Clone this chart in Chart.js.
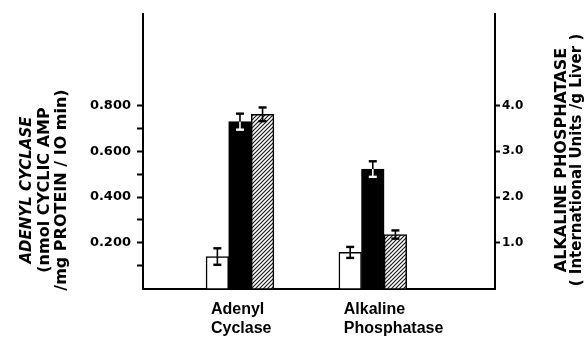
<!DOCTYPE html>
<html>
<head>
<meta charset="utf-8">
<script src="https://cdn.jsdelivr.net/npm/chart.js@4/dist/chart.umd.min.js"></script>
<style>
  body { margin: 0; background: #fff; }
  #chart { display: block; }
</style>
</head>
<body>
<canvas id="chart" width="584" height="339"></canvas>
<script>
// Data
const categories = ['Adenyl Cyclase', 'Alkaline Phosphatase'];
const groupX = [1, 2];
const seriesNames = ['control', 'treated', 'treated2'];

// left axis group (adenyl cyclase) and right axis group (alkaline phosphatase)
const controlValues = [0.140, 0.79];
const controlErrors = [0.036, 0.12];
const treatedValues = [0.729, 2.61];
const treatedErrors = [0.035, 0.17];
const treated2Values = [0.761, 1.18];
const treated2Errors = [0.030, 0.09];

const leftTickValues = [0.1, 0.2, 0.3, 0.4, 0.5, 0.6, 0.7, 0.8];
const leftTickLabels = ['', '0.200', '', '0.400', '', '0.600', '', '0.800'];
const rightTickValues = [1, 2, 3, 4];
const rightTickLabels = ['1.0', '2.0', '3.0', '4.0'];

const leftTitle = ['ADENYL CYCLASE', '(nmol CYCLIC AMP', '/mg PROTEIN / IO min)'];
const rightTitle = ['ALKALINE PHOSPHATASE', '( International Units /g Liver )'];

const canvas = document.getElementById('chart');
const ctx = canvas.getContext('2d');

// diagonal hatching for the third bar
function hatchPattern() {
    const c = document.createElement('canvas');
    c.width = 4; c.height = 4;
    const g = c.getContext('2d');
    g.fillStyle = '#fff';
    g.fillRect(0, 0, 4, 4);
    g.strokeStyle = '#1a1a1a';
    g.lineWidth = 1.2;
    g.beginPath();
    g.moveTo(0, 4); g.lineTo(4, 0);
    g.moveTo(-1, 1); g.lineTo(1, -1);
    g.moveTo(3, 5); g.lineTo(5, 3);
    g.stroke();
    return ctx.createPattern(c, 'repeat');
}

const seriesValues = [controlValues, treatedValues, treated2Values];
const seriesErrors = [controlErrors, treatedErrors, treated2Errors];
const seriesFill = ['#fff', '#000', hatchPattern()];
const seriesErrInside = ['#000', '#fff', '#000'];

// one dataset per series and group, so each group can use its own y axis
const datasets = [];
categories.forEach((cat, g) => {
    seriesNames.forEach((name, s) => {
        datasets.push({
            label: name + ' ' + cat,
            data: [{ x: groupX[g], y: seriesValues[s][g] }],
            errors: [seriesErrors[s][g]],
            errInside: seriesErrInside[s],
            yAxisID: g === 0 ? 'y' : 'y2',
            stack: name,
            backgroundColor: seriesFill[s],
            borderColor: '#000',
            borderWidth: 1.5,
            barThickness: 22.6
        });
    });
});

// error bars with caps
const errorBars = {
    id: 'errorBars',
    afterDatasetsDraw(chart) {
        const c = chart.ctx;
        c.save();
        chart.data.datasets.forEach((ds, i) => {
            const meta = chart.getDatasetMeta(i);
            const scale = chart.scales[meta.yAxisID];
            meta.data.forEach((bar, j) => {
                const v = ds.data[j].y;
                const err = ds.errors[j];
                const top = scale.getPixelForValue(v + err);
                const bottom = scale.getPixelForValue(v - err);
                const x = bar.x;
                c.lineWidth = 1.6;
                c.strokeStyle = '#000';
                c.beginPath(); c.moveTo(x, top); c.lineTo(x, bar.y); c.stroke();
                c.strokeStyle = ds.errInside;
                c.beginPath(); c.moveTo(x, bar.y); c.lineTo(x, bottom); c.stroke();
                c.lineWidth = 2.4;
                c.strokeStyle = '#000';
                c.beginPath(); c.moveTo(x - 4, top); c.lineTo(x + 4, top); c.stroke();
                c.strokeStyle = ds.errInside;
                c.beginPath(); c.moveTo(x - 4, bottom); c.lineTo(x + 4, bottom); c.stroke();
            });
        });
        c.restore();
    }
};

// rotated axis titles (both read bottom to top)
const axisTitles = {
    id: 'axisTitles',
    afterDraw(chart) {
        const c = chart.ctx;
        const yl = chart.scales.y;
        const yr = chart.scales.y2;
        c.save();
        c.fillStyle = '#000';
        c.textAlign = 'center';
        c.textBaseline = 'middle';
        leftTitle.forEach((line, i) => {
            c.save();
            c.translate(yl.left + 27 + i * 17.5, 190);
            c.rotate(-Math.PI / 2);
            c.font = i === 0 ? 'italic bold 15px "DejaVu Sans"' : 'bold 16px "DejaVu Sans"';
            c.fillText(line, 0, 0);
            c.restore();
        });
        rightTitle.forEach((line, i) => {
            c.save();
            c.translate(yr.left + 67 + i * 15, 160);
            c.rotate(-Math.PI / 2);
            c.font = i === 0 ? 'bold 16px "DejaVu Sans"' : 'bold 15px "DejaVu Sans"';
            c.fillText(line, 0, 0);
            c.restore();
        });
        c.restore();
    }
};

new Chart(canvas, {
    type: 'bar',
    data: { datasets: datasets },
    plugins: [errorBars, axisTitles],
    options: {
        responsive: false,
        animation: false,
        devicePixelRatio: 1,
        layout: { padding: { top: 12, left: 0, right: 0, bottom: 0 } },
        plugins: {
            legend: { display: false },
            tooltip: { enabled: false }
        },
        scales: {
            x: {
                type: 'linear',
                offset: false,
                min: 0.27,
                max: 2.92,
                grid: { display: false, drawTicks: true, tickLength: 10 },
                border: { display: true, color: '#000', width: 2 },
                afterBuildTicks: scale => {
                    scale.ticks = groupX.map(v => ({ value: v }));
                },
                ticks: {
                    autoSkip: false,
                    maxRotation: 0,
                    align: 'start',
                    labelOffset: -29,
                    padding: 1,
                    color: '#000',
                    font: { family: 'Liberation Sans', weight: 'bold', size: 16, lineHeight: 1.2 },
                    callback: (value, index) => categories[index].split(' ')
                }
            },
            y: {
                position: 'left',
                min: 0,
                max: 1.2,
                afterFit: scale => { scale.width = 143; },
                afterBuildTicks: scale => {
                    scale.ticks = leftTickValues.map(v => ({ value: v }));
                },
                grid: { drawOnChartArea: false, drawTicks: true, tickLength: 6, tickColor: '#000', tickWidth: 2 },
                border: { display: true, color: '#000', width: 2 },
                ticks: {
                    padding: 6,
                    color: '#000',
                    font: { family: 'DejaVu Sans', weight: 'bold', size: 13 },
                    callback: (value, index) => leftTickLabels[index]
                }
            },
            y2: {
                position: 'right',
                min: 0,
                max: 6,
                afterFit: scale => { scale.width = 89; },
                afterBuildTicks: scale => {
                    scale.ticks = rightTickValues.map(v => ({ value: v }));
                },
                grid: { drawOnChartArea: false, drawTicks: true, tickLength: 5, tickColor: '#000', tickWidth: 2 },
                border: { display: true, color: '#000', width: 2 },
                ticks: {
                    padding: 2,
                    color: '#000',
                    font: { family: 'DejaVu Sans', weight: 'bold', size: 12 },
                    callback: (value, index) => rightTickLabels[index]
                }
            }
        }
    }
});
</script>
</body>
</html>
